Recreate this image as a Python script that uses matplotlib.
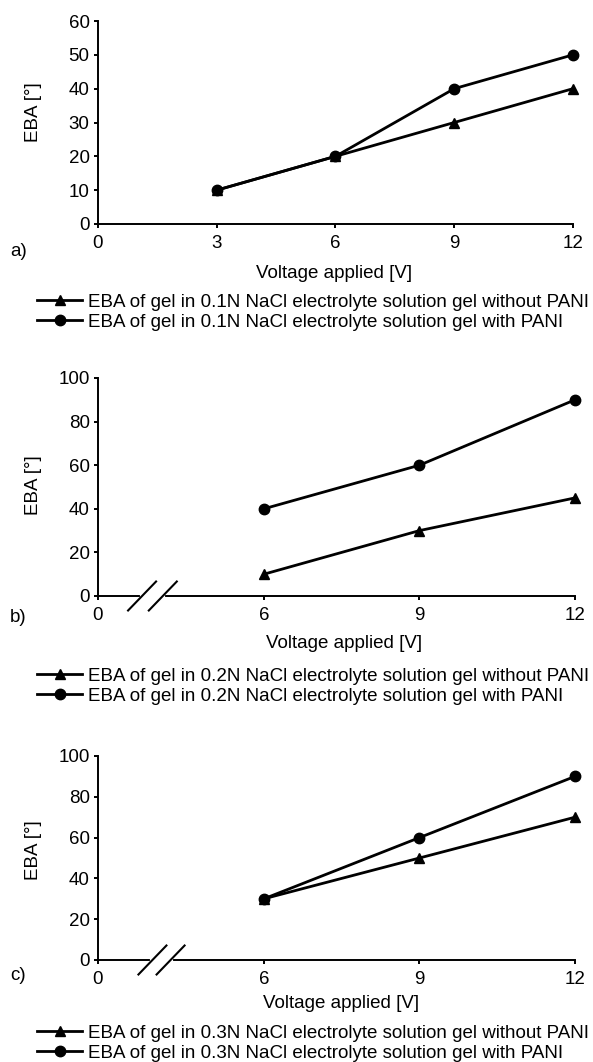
import matplotlib
matplotlib.use("Agg")
import matplotlib.pyplot as plt
from matplotlib.lines import Line2D

plt.rcParams["font.family"] = ["Liberation Sans", "DejaVu Sans"]
plt.rcParams["font.size"] = 13.5

# ---- data ----
volt_a = [3, 6, 9, 12]
eba_a_without = [10, 20, 30, 40]
eba_a_with = [10, 20, 40, 50]

volt_bc = [6, 9, 12]
eba_b_without = [10, 30, 45]
eba_b_with = [40, 60, 90]
eba_c_without = [30, 50, 70]
eba_c_with = [30, 60, 90]

labels_a = ["EBA of gel in 0.1N NaCl electrolyte solution gel without PANI",
            "EBA of gel in 0.1N NaCl electrolyte solution gel with PANI"]
labels_b = ["EBA of gel in 0.2N NaCl electrolyte solution gel without PANI",
            "EBA of gel in 0.2N NaCl electrolyte solution gel with PANI"]
labels_c = ["EBA of gel in 0.3N NaCl electrolyte solution gel without PANI",
            "EBA of gel in 0.3N NaCl electrolyte solution gel with PANI"]

W, H = 593, 1062
fig = plt.figure(figsize=(W / 100, H / 100), dpi=100)


def fx(px):
    return px / W


def fy(py):
    return 1 - py / H


def make_axes(left, top, right, bottom):
    return fig.add_axes([fx(left), fy(bottom), (right - left) / W, (bottom - top) / H])


LW = 2.0
MS_T, MS_C = 7.5, 7.5
FS = 13.5


def style(ax):
    for s in ("top", "right"):
        ax.spines[s].set_visible(False)
    for s in ("left", "bottom"):
        ax.spines[s].set_linewidth(1.4)
    ax.tick_params(direction="out", length=3, width=1.4, labelsize=13.5, pad=3)
    ax.tick_params(axis="x", pad=5)


def draw(ax, x, y_without, y_with):
    ax.plot(x, y_without, color="black", lw=LW, marker="^", ms=MS_T, clip_on=False, zorder=3)
    ax.plot(x, y_with, color="black", lw=LW, marker="o", ms=MS_C, clip_on=False, zorder=3)


def labels(ax, x_lab_px, y_lab_px, ax_box, ylab_y_px, panel, panel_y):
    left, top, right, bottom = ax_box
    ax.set_xlabel("Voltage applied [V]", fontsize=FS)
    ax.xaxis.label.set_va("center")
    ax.xaxis.set_label_coords((x_lab_px - left) / (right - left),
                              (bottom - y_lab_px) / (bottom - top))
    ax.set_ylabel("EBA [°]", fontsize=FS)
    ax.yaxis.label.set_va("center")
    ax.yaxis.set_label_coords((34 - left) / (right - left),
                              (bottom - ylab_y_px) / (bottom - top))
    fig.text(fx(10), fy(panel_y), panel, fontsize=FS, va="center", ha="left")


def legend(ax, lbls, y_mid_px):
    handles = [Line2D([], [], color="black", lw=LW, marker="^", ms=MS_T),
               Line2D([], [], color="black", lw=LW, marker="o", ms=MS_C)]
    fig.legend(handles, lbls, loc="center left", bbox_to_anchor=(fx(37), fy(y_mid_px)),
               bbox_transform=fig.transFigure, frameon=False, fontsize=FS,
               handlelength=2.4, handletextpad=0.3, labelspacing=0.15,
               borderpad=0, borderaxespad=0)


def break_marks(ax, xs, xlim, box):
    left, top, right, bottom = box
    wpx, hpx = right - left, bottom - top
    dx, dy = 14 / wpx, 14.5 / hpx
    c = [(v - xlim[0]) / (xlim[1] - xlim[0]) for v in xs]
    ax.plot([c[0], c[1]], [0, 0], transform=ax.transAxes, color="white", lw=3,
            clip_on=False, zorder=4)
    for cx in c:
        ax.plot([cx - dx, cx + dx], [-dy, dy], transform=ax.transAxes, color="black",
                lw=1.5, clip_on=False, zorder=5)


# ---- panel a ----
box_a = (98, 21, 573, 224)
ax_a = make_axes(*box_a)
style(ax_a)
draw(ax_a, volt_a, eba_a_without, eba_a_with)
ax_a.set_xlim(0, 12)
ax_a.set_ylim(0, 60)
ax_a.set_xticks([0, 3, 6, 9, 12])
ax_a.set_yticks(range(0, 61, 10))
labels(ax_a, 334, 274, box_a, 112, "a)", 252)
legend(ax_a, labels_a, 312)

# ---- panels b and c (broken x axis) ----
xlim_bc = (2.8, 12)
ticks_bc = [2.8, 6, 9, 12]
ticklabels_bc = ["0", "6", "9", "12"]

box_b = (98, 378, 575, 596)
ax_b = make_axes(*box_b)
style(ax_b)
draw(ax_b, volt_bc, eba_b_without, eba_b_with)
ax_b.set_xlim(*xlim_bc)
ax_b.set_ylim(0, 100)
ax_b.set_xticks(ticks_bc)
ax_b.set_xticklabels(ticklabels_bc)
ax_b.set_yticks(range(0, 101, 20))
labels(ax_b, 344, 643, box_b, 485, "b)", 617)
legend(ax_b, labels_b, 686)
break_marks(ax_b, [3.65, 4.05], xlim_bc, box_b)

box_c = (98, 756, 575, 960)
ax_c = make_axes(*box_c)
style(ax_c)
draw(ax_c, volt_bc, eba_c_without, eba_c_with)
ax_c.set_xlim(*xlim_bc)
ax_c.set_ylim(0, 100)
ax_c.set_xticks(ticks_bc)
ax_c.set_xticklabels(ticklabels_bc)
ax_c.set_yticks(range(0, 101, 20))
labels(ax_c, 341, 1003, box_c, 850, "c)", 975)
legend(ax_c, labels_c, 1043)
break_marks(ax_c, [3.85, 4.2], xlim_bc, box_c)

fig.savefig("out.png", dpi=100)
